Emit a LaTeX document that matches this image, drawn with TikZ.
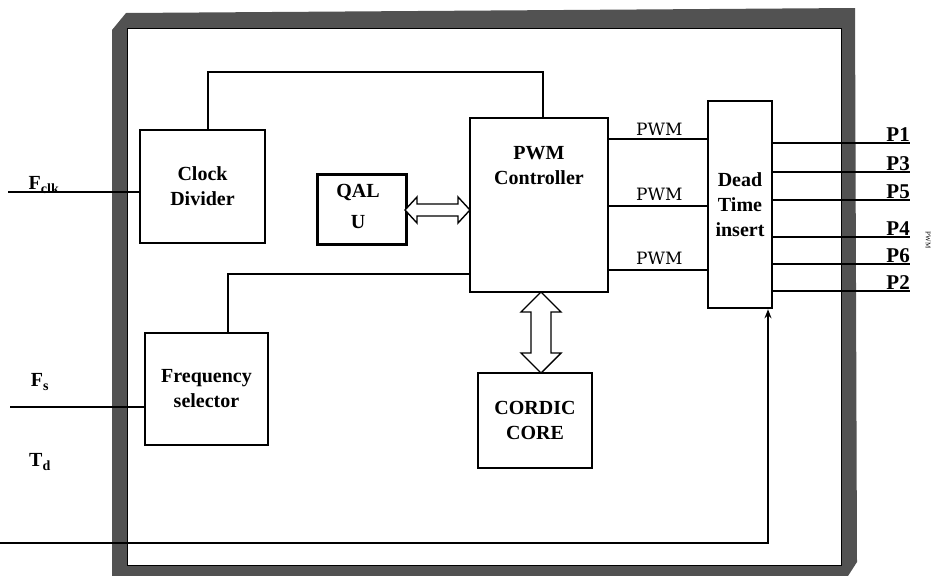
\documentclass[tikz,border=0pt]{standalone}
\usepackage{fontspec}
\setmainfont{Liberation Serif}
\newfontfamily\pwmfont{DejaVu Serif}
\usetikzlibrary{calc,arrows.meta}
\begin{document}
\begin{tikzpicture}[x=1pt,y=-1pt,
  blk/.style={draw,line width=2.6pt,inner sep=0pt,align=center,
    font=\fontsize{20}{25}\selectfont\bfseries},
  wire/.style={line width=2.3pt},
  pwmlbl/.style={font=\pwmfont\fontsize{17}{18}\selectfont,inner sep=1pt},
  plbl/.style={font=\fontsize{21}{22}\selectfont\bfseries,inner sep=0pt,anchor=south east},
  inlbl/.style={font=\fontsize{20}{22}\selectfont\bfseries,inner sep=0pt},
  hollow/.style={draw,line width=1.4pt,fill=white,line join=miter}]
\useasboundingbox (0,0) rectangle (935,576);
% frame
\fill[black!68] (112,30) -- (126,13) -- (855,8) -- (857,562) -- (848,576) -- (112,576) -- cycle;
\fill[white,draw=black,line width=1pt] (127,28) rectangle (841,565);
% blocks
\node[blk,minimum width=125pt,minimum height=113pt] (clk) at (202.5,186.5) {Clock\\Divider};
\node[blk,minimum width=89pt,minimum height=70pt,anchor=north west] (qalu) at (316,173) {};
\node[inlbl,font=\fontsize{20}{31}\selectfont\bfseries,align=center] (qalut) at (358,206) {QAL\\U};
\node[blk,minimum width=138pt,minimum height=174pt] (pwm) at (539,205) {};
\node[inlbl,align=center,font=\fontsize{20}{25}\selectfont\bfseries] (pwmt) at (539,166) {PWM\\Controller};
\node[blk,minimum width=64pt,minimum height=207pt] (dt) at (740,204.5) {Dead\\Time\\insert};
\node[blk,minimum width=123pt,minimum height=112pt] (fs) at (206.5,389) {Frequency\\selector};
\node[blk,minimum width=114pt,minimum height=95pt] (cordic) at (535,420.5) {CORDIC\\CORE};
% top connector clock divider -> PWM controller
\draw[wire] ($(clk.north)+(5.5,0)$) |- (543,72) coordinate (tc) -- ($(pwm.north)+(4,0)$);
% frequency selector -> PWM controller
\draw[wire] ($(fs.north)+(21.5,0)$) |- ($(pwm.west)+(0,69)$);
% PWM lines
\draw[wire] ($(pwm.east)+(0,-66)$) -- node[pwmlbl,above=1pt] (l1) {PWM} ($(pwm.east)+(100,-66)$);
\draw[wire] ($(pwm.east)+(0,1)$) -- node[pwmlbl,above=3pt] (l2) {PWM} ($(pwm.east)+(100,1)$);
\draw[wire] ($(pwm.east)+(0,65)$) -- node[pwmlbl,above=3pt] (l3) {PWM} ($(pwm.east)+(100,65)$);
% hollow double arrows
\draw[hollow] (405,210) -- (417,197) -- (417,204) -- (458,204) -- (458,197) -- (470,210)
  -- (458,223) -- (458,216) -- (417,216) -- (417,223) -- cycle;
\draw[hollow] (541,292) -- (561,312) -- (551,312) -- (551,353) -- (561,353) -- (541,373)
  -- (521,353) -- (531,353) -- (531,312) -- (521,312) -- cycle;
% inputs
\coordinate (fclkin) at (8,192);
\coordinate (fsin) at (10,407);
\coordinate (tdin) at (0,543);
\draw[wire,line width=2.8pt] (fclkin) -- (clk.west |- fclkin);
\draw[wire,line width=2.8pt] (fsin) -- (fs.west |- fsin);
\draw[wire,line width=2.5pt,-{Stealth[length=9pt,width=7pt]}] (tdin) -| ($(dt.south)+(28,0)$);
\node[inlbl] (fclk) at (44,185) {F\textsubscript{clk}};
\node[inlbl] (fsl) at (40,382) {F\textsubscript{s}};
\node[inlbl] (tdl) at (40,462) {T\textsubscript{d}};
% outputs
\foreach \y/\p in {143/1,172/3,200/5,237/4,264/6,291/2}{
  \coordinate (o\p) at (910,\y);
  \draw[wire] (dt.east |- o\p) -- (o\p);
  \node[plbl] (pl\p) at ($(o\p)+(0,-1)$) {P\p};
}
\node[font=\fontsize{7}{8}\selectfont,rotate=-90] (pwmside) at (928,240) {PWM};
\end{tikzpicture}
\end{document}
